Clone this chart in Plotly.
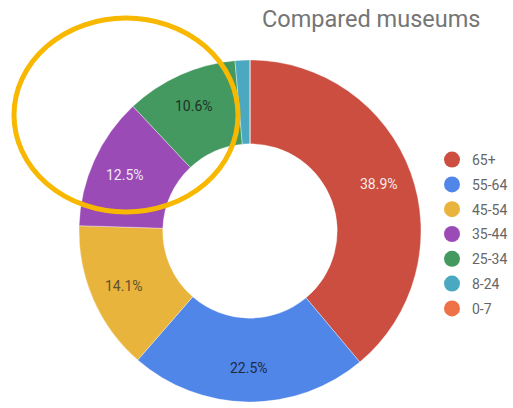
import math
import plotly.graph_objects as go

# Age-group shares for the museum comparison
age_groups = ["65+", "55-64", "45-54", "35-44", "25-34", "8-24", "0-7"]
shares = [38.9, 22.5, 14.1, 12.5, 10.6, 1.4, 0.0]
slice_colors = ["#cc4e40", "#4f86e8", "#e8b43c", "#9b4bb5", "#449960", "#4aa9c0", "#ee7148"]
label_colors = ["#f4ecea", "#1f2a40", "#5e5030", "#f0e8f4", "#1c3324", "#ffffff", "#ffffff"]

W, H = 513, 408
cx, cy, r = 250, 231, 171

fig = go.Figure()
fig.add_trace(go.Pie(
    labels=age_groups,
    values=shares,
    sort=False,
    direction="clockwise",
    rotation=0,
    hole=0.51,
    marker=dict(colors=slice_colors, line=dict(color="rgba(255,255,255,0.6)", width=0.6)),
    textinfo="none",
    showlegend=False,
    hoverinfo="label+percent",
    domain=dict(x=[(cx - r) / W, (cx + r) / W], y=[(H - cy - r) / H, (H - cy + r) / H]),
))

# Percentage labels on a common ring inside the donut
ring_r = 137
total = sum(shares)
start = 0.0
for v, tc in zip(shares, label_colors):
    mid = (start + v / 2) / total * 2 * math.pi
    start += v
    if v / total < 0.05:
        continue
    px = cx + ring_r * math.sin(mid)
    py = cy - ring_r * math.cos(mid)
    fig.add_annotation(x=px / W, y=1 - py / H, xref="paper", yref="paper",
                       xanchor="center", yanchor="middle",
                       text=f"{v / total * 100:.1f}%", showarrow=False,
                       font=dict(family="Roboto", size=14, color=tc))

# Legend entries with round swatches
for name, col in zip(age_groups, slice_colors):
    fig.add_trace(go.Scatter(
        x=[None], y=[None], mode="markers", name=name,
        legendgroup=name,
        marker=dict(symbol="circle", size=16, color=col),
    ))

# Highlight ring around the younger-adult slices
fig.add_shape(type="circle", xref="paper", yref="paper",
              x0=14 / W, x1=238 / W, y0=(H - 212) / H, y1=(H - 18) / H,
              line=dict(color="#f8b800", width=5))

fig.update_layout(
    width=W, height=H,
    margin=dict(l=0, r=0, t=0, b=0),
    paper_bgcolor="white", plot_bgcolor="white",
    xaxis=dict(visible=False), yaxis=dict(visible=False),
    title=dict(text="Compared museums", x=262 / W, xanchor="left",
               y=1 - 19 / H, yanchor="middle",
               font=dict(family="Roboto", size=23.5, color="#757575")),
    legend=dict(x=1, xanchor="right", y=1 - 144 / H, yanchor="top",
                font=dict(family="Roboto", size=14, color="#666666"),
                tracegroupgap=3.6, itemwidth=30, bgcolor="rgba(0,0,0,0)"),
)

fig.write_html("out.html")
